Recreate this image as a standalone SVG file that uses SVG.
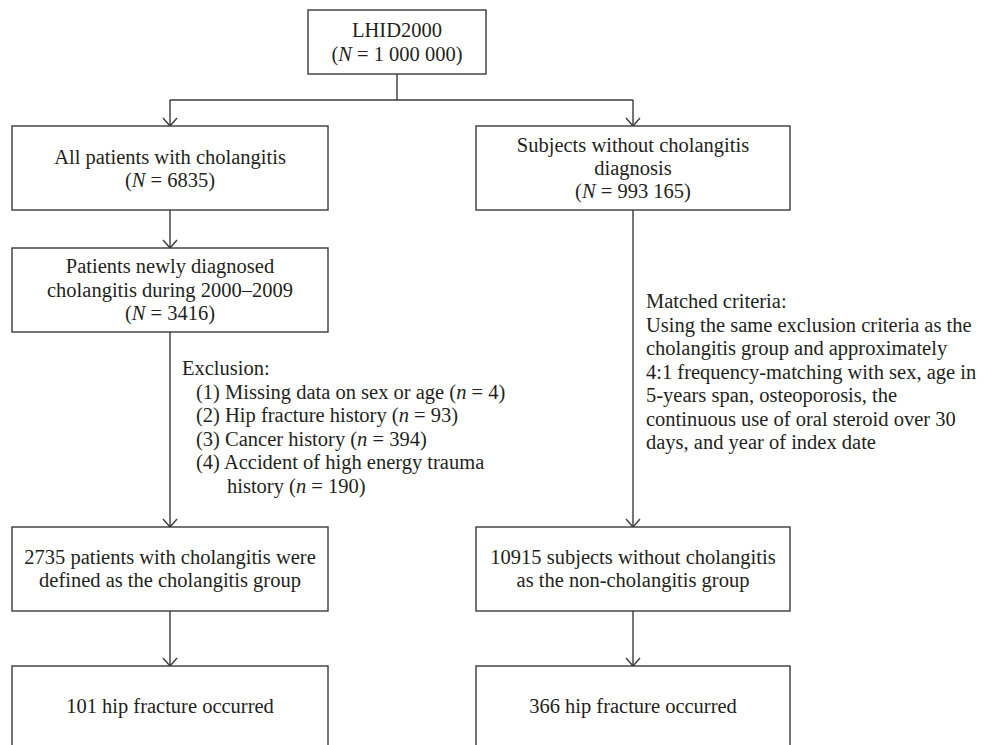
<svg xmlns="http://www.w3.org/2000/svg" width="987" height="745" viewBox="0 0 987 745">
<defs>
<style>
.box{fill:#fff;stroke:#3a3a3a;stroke-width:1.4}
.ln{fill:none;stroke:#3a3a3a;stroke-width:1.4}
text{font-family:"Liberation Serif","Times New Roman",serif;font-size:20.5px;fill:#231f20}
.c{text-anchor:middle}
.i{font-style:italic}
</style>
<marker id="arr" viewBox="-8 -9 16 10" markerWidth="16" markerHeight="10" refX="0" refY="0" orient="0" markerUnits="userSpaceOnUse">
<path d="M-7,-8 L0,0 L7,-8" fill="none" stroke="#3a3a3a" stroke-width="1.4"/>
</marker>
</defs>
<rect width="987" height="745" fill="#fff"/>
<g id="connectors">
<path class="ln" d="M397,74 V100"/>
<path class="ln" d="M170,100 H633"/>
<path class="ln" d="M170,100 V126" marker-end="url(#arr)"/>
<path class="ln" d="M633,100 V126" marker-end="url(#arr)"/>
<path class="ln" d="M170,210 V248" marker-end="url(#arr)"/>
<path class="ln" d="M170,332 V527" marker-end="url(#arr)"/>
<path class="ln" d="M170,611 V666" marker-end="url(#arr)"/>
<path class="ln" d="M633,210 V527" marker-end="url(#arr)"/>
<path class="ln" d="M633,611 V666" marker-end="url(#arr)"/>
</g>
<g id="n_lhid">
<rect class="box" x="308" y="10" width="178" height="64"/>
<text class="c" x="397" y="37">LHID2000</text>
<text class="c" x="397" y="61">(<tspan class="i">N</tspan> = 1 000 000)</text>
</g>
<g id="n_all">
<rect class="box" x="12" y="126" width="316" height="84"/>
<text class="c" x="170" y="164">All patients with cholangitis</text>
<text class="c" x="170" y="187">(<tspan class="i">N</tspan> = 6835)</text>
</g>
<g id="n_without">
<rect class="box" x="476" y="126" width="314" height="84"/>
<text class="c" x="633" y="152">Subjects without cholangitis</text>
<text class="c" x="633" y="175">diagnosis</text>
<text class="c" x="633" y="198">(<tspan class="i">N</tspan> = 993 165)</text>
</g>
<g id="n_new">
<rect class="box" x="12" y="248" width="316" height="84"/>
<text class="c" x="170" y="273">Patients newly diagnosed</text>
<text class="c" x="170" y="296.5">cholangitis during 2000–2009</text>
<text class="c" x="170" y="320">(<tspan class="i">N</tspan> = 3416)</text>
</g>
<g id="n_exclusion">
<text x="182" y="375">Exclusion:</text>
<text x="196" y="398.5">(1) Missing data on sex or age (<tspan class="i">n</tspan> = 4)</text>
<text x="196" y="422">(2) Hip fracture history (<tspan class="i">n</tspan> = 93)</text>
<text x="196" y="445.5">(3) Cancer history (<tspan class="i">n</tspan> = 394)</text>
<text x="196" y="469">(4) Accident of high energy trauma</text>
<text x="227" y="492.5">history (<tspan class="i">n</tspan> = 190)</text>
</g>
<g id="n_matched">
<text x="646" y="308">Matched criteria:</text>
<text x="646" y="331.5">Using the same exclusion criteria as the</text>
<text x="646" y="355">cholangitis group and approximately</text>
<text x="646" y="378.5">4:1 frequency-matching with sex, age in</text>
<text x="646" y="402">5-years span, osteoporosis, the</text>
<text x="646" y="425.5">continuous use of oral steroid over 30</text>
<text x="646" y="449">days, and year of index date</text>
</g>
<g id="n_group">
<rect class="box" x="12" y="527" width="316" height="84"/>
<text class="c" x="170" y="563.5">2735 patients with cholangitis were</text>
<text class="c" x="170" y="587">defined as the cholangitis group</text>
</g>
<g id="n_nongroup">
<rect class="box" x="476" y="527" width="314" height="84"/>
<text class="c" x="633" y="563.5">10915 subjects without cholangitis</text>
<text class="c" x="633" y="587">as the non-cholangitis group</text>
</g>
<g id="n_hip1">
<rect class="box" x="12" y="666" width="316" height="100"/>
<text class="c" x="170" y="713">101 hip fracture occurred</text>
</g>
<g id="n_hip2">
<rect class="box" x="476" y="666" width="314" height="100"/>
<text class="c" x="633" y="713">366 hip fracture occurred</text>
</g>
</svg>
